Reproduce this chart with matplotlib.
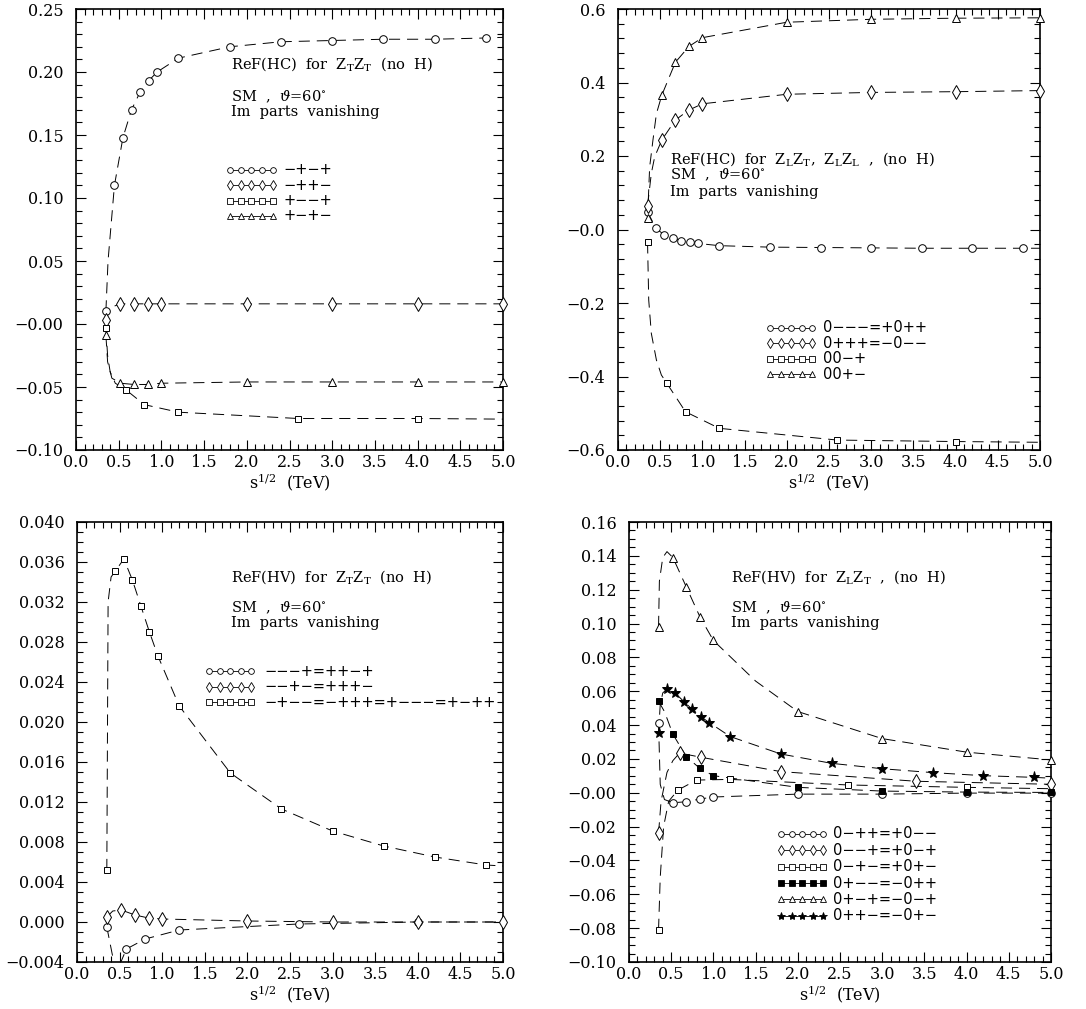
import matplotlib
matplotlib.use('Agg')
import matplotlib.pyplot as plt
from matplotlib.ticker import MultipleLocator, FixedLocator, FixedFormatter, FormatStrFormatter

plt.rcParams['font.family'] = 'DejaVu Serif'
plt.rcParams['mathtext.fontset'] = 'dejavuserif'
plt.rcParams['lines.scale_dashes'] = False

# energy grids (TeV) at which the markers sit
x_a = [0.35, 0.45, 0.55, 0.65, 0.75, 0.85, 0.95, 1.2, 1.8, 2.4, 3.0, 3.6, 4.2, 4.8]
x_b = [0.35, 0.52, 0.68, 0.84, 1.0, 2.0, 3.0, 4.0, 5.0]
x_c = [0.35, 0.58, 0.8, 1.2, 2.6, 4.0]
x_d = [0.35, 0.6, 0.85, 1.8, 3.4, 5.0]

# --- ReF(HC) for ZTZT
hc_tt_c = [0.010, 0.110, 0.148, 0.170, 0.184, 0.193, 0.200, 0.211, 0.220, 0.224, 0.225, 0.226, 0.226, 0.227]
hc_tt_d = [0.003, 0.016, 0.016, 0.016, 0.016, 0.016, 0.016, 0.016, 0.016]
hc_tt_s = [-0.003, -0.052, -0.064, -0.070, -0.075, -0.075]
hc_tt_t = [-0.009, -0.047, -0.048, -0.048, -0.047, -0.046, -0.046, -0.046, -0.046]
# extra points on the dashed curves between markers
hc_tt_c_ext = ([0.375, 5.0], [0.05, 0.2275])
hc_tt_d_ext = ([0.40], [0.013])
hc_tt_s_ext = ([0.37, 0.40, 0.46, 5.0], [-0.025, -0.038, -0.047, -0.0755])
hc_tt_t_ext = ([0.37, 0.42], [-0.030, -0.043])

# --- ReF(HC) for ZLZT, ZLZL
hc_lt_c = [0.048, 0.003, -0.015, -0.024, -0.030, -0.035, -0.038, -0.044, -0.048, -0.049, -0.050, -0.051, -0.051, -0.051]
hc_lt_d = [0.064, 0.244, 0.298, 0.325, 0.342, 0.368, 0.373, 0.375, 0.378]
hc_lt_s = [-0.035, -0.419, -0.496, -0.541, -0.573, -0.577]
hc_lt_t = [0.030, 0.366, 0.455, 0.498, 0.522, 0.564, 0.572, 0.575, 0.576]
hc_lt_c_ext = ([5.0], [-0.051])
hc_lt_d_ext = ([0.395, 0.435], [0.153, 0.198])
hc_lt_s_ext = ([0.364, 0.395, 0.455, 0.514, 5.0], [-0.192, -0.283, -0.355, -0.396, -0.579])
hc_lt_t_ext = ([0.375, 0.415, 0.455], [0.17, 0.245, 0.315])

# --- ReF(HV) for ZTZT
hv_tt_c = [-0.0005, -0.0027, -0.0017, -0.0008, -0.0002, 0.0000]
hv_tt_d = [0.0005, 0.0012, 0.0007, 0.0004, 0.0003, 0.0001, 0.0000, 0.0000, 0.0000]
hv_tt_s = [0.0052, 0.0351, 0.0363, 0.0342, 0.0316, 0.0290, 0.0266, 0.0216, 0.0149, 0.0113, 0.0091, 0.0076, 0.0065, 0.0057]
hv_tt_c_ext = ([0.42, 0.47, 0.53, 5.0], [-0.0035, -0.0050, -0.0037, 0.0])
hv_tt_d_ext = ([0.42], [0.0011])
hv_tt_s_ext = ([0.365, 0.40, 5.0], [0.032, 0.0345, 0.0056])

# --- ReF(HV) for ZLZT
hv_lt_c = [0.041, -0.0059, -0.0053, -0.0037, -0.0025, -0.0008, -0.0008, -0.0002, -0.0002]
hv_lt_d = [-0.024, 0.0235, 0.021, 0.0125, 0.0068, 0.005]
hv_lt_s = [-0.081, 0.0016, 0.0075, 0.0079, 0.0046, 0.0032]
hv_lt_f = [0.0541, 0.0346, 0.0213, 0.0144, 0.0101, 0.0032, 0.0010, 0.0004, 0.0002]
hv_lt_t = [0.098, 0.139, 0.1215, 0.104, 0.090, 0.048, 0.032, 0.024, 0.0194]
hv_lt_a = [0.0355, 0.0612, 0.0588, 0.0539, 0.0493, 0.0450, 0.0415, 0.0332, 0.0229, 0.0174, 0.0142, 0.0119, 0.0101, 0.0091]
hv_lt_c_ext = ([0.37, 0.42], [0.005, -0.004])
hv_lt_d_ext = ([0.38, 0.45, 0.52], [-0.005, 0.012, 0.019])
hv_lt_s_ext = ([0.37, 0.41, 0.47, 5.0], [-0.050, -0.020, -0.005, 0.0024])
hv_lt_f_ext = ([0.42], [0.048])
hv_lt_t_ext = ([0.36, 0.40, 0.45, 1.5], [0.125, 0.139, 0.1425, 0.066])
hv_lt_a_ext = ([0.37, 0.40, 5.0], [0.052, 0.059, 0.0086])

# legend labels
lab_hc_tt = ['\u2212+\u2212+', '\u2212++\u2212', '+\u2212\u2212+', '+\u2212+\u2212']
lab_hc_lt = ['0\u2212\u2212\u2212=+0++', '0+++=\u22120\u2212\u2212', '00\u2212+', '00+\u2212']
lab_hv_tt = ['\u2212\u2212\u2212+=++\u2212+', '\u2212\u2212+\u2212=+++\u2212',
             '\u2212+\u2212\u2212=\u2212+++=+\u2212\u2212\u2212=+\u2212++']
lab_hv_lt = ['0\u2212++=+0\u2212\u2212', '0\u2212\u2212+=+0\u2212+', '0\u2212+\u2212=+0+\u2212',
             '0+\u2212\u2212=\u22120++', '0+\u2212+=\u22120\u2212+', '0++\u2212=\u22120+\u2212']

# y tick labels
yt_1 = [-0.10, -0.05, 0.0, 0.05, 0.10, 0.15, 0.20, 0.25]
yl_1 = ['\u22120.10', '\u22120.05', '\u22120.00', '0.05', '0.10', '0.15', '0.20', '0.25']
yt_2 = [-0.6, -0.4, -0.2, 0.0, 0.2, 0.4, 0.6]
yl_2 = ['\u22120.6', '\u22120.4', '\u22120.2', '\u22120.0', '0.2', '0.4', '0.6']
yt_3 = [-0.004 + 0.004 * i for i in range(12)]
yl_3 = ['\u22120.004', '0.000', '0.004', '0.008', '0.012', '0.016', '0.020', '0.024',
        '0.028', '0.032', '0.036', '0.040']
yt_4 = [-0.10 + 0.02 * i for i in range(14)]
yl_4 = ['\u22120.10', '\u22120.08', '\u22120.06', '\u22120.04', '\u22120.02', '\u22120.00', '0.02',
        '0.04', '0.06', '0.08', '0.10', '0.12', '0.14', '0.16']

W, H = 1086, 1009
fig = plt.figure(figsize=(W / 100, H / 100), dpi=100)


def new_axes(l, r, t, b):
    return fig.add_axes([l / W, (H - b) / H, (r - l) / W, (b - t) / H])


MK = {'o': 5.5, 'd': 7, 's': 5, '^': 5.5, '*': 8}


def series(ax, x, y, ext, m, filled):
    pts = sorted(zip(list(x) + ext[0], list(y) + ext[1]))
    ax.plot([p[0] for p in pts], [p[1] for p in pts], color='k', lw=0.7, ls=(0, (8, 5)))
    ax.plot(x, y, ls='none', marker=m, ms=MK[m], mew=0.7, mec='k',
            mfc='k' if filled else 'white', clip_on=False, zorder=3)


def key(ax, x0, y0, dy, x_txt, rows, ax_w):
    step = 10.6 / ax_w
    for i, (m, filled, lab) in enumerate(rows):
        y = y0 - i * dy
        xs = [x0 + k * step for k in range(5)]
        ax.plot(xs, [y] * 5, '-', color='k', lw=0.6, marker=m, ms=MK[m] * 0.75, mew=0.6,
                mec='k', mfc='k' if filled else 'white', transform=ax.transAxes, clip_on=False)
        ax.text(x_txt, y, lab, transform=ax.transAxes, va='center', ha='left',
                fontsize=10.5, family='DejaVu Sans')


def style(ax, yt, yl, ymin, ymax, yminor):
    ax.set_xlim(0, 5)
    ax.set_ylim(ymin, ymax)
    ax.xaxis.set_major_locator(MultipleLocator(0.5))
    ax.xaxis.set_minor_locator(MultipleLocator(0.1))
    ax.xaxis.set_major_formatter(FormatStrFormatter('%.1f'))
    ax.yaxis.set_major_locator(FixedLocator(yt))
    ax.yaxis.set_major_formatter(FixedFormatter(yl))
    ax.yaxis.set_minor_locator(MultipleLocator(yminor))
    ax.tick_params(which='both', direction='in', top=True, right=True, width=0.8, labelsize=11.5)
    ax.tick_params(which='major', length=7)
    ax.tick_params(which='minor', length=4)
    ax.tick_params(axis='y', pad=9)
    ax.tick_params(axis='x', pad=3)
    for s in ax.spines.values():
        s.set_linewidth(1.2)
    ax.set_xlabel(r'$\mathrm{s}^{1/2}$  (TeV)', fontsize=11.5, labelpad=0)


def notes(ax, x, ys, lines):
    for y, t in zip(ys, lines):
        ax.text(x, y, t, transform=ax.transAxes, va='center', ha='left', fontsize=10.5)


sm_line = r'SM  ,  $\vartheta$=60$^{\circ}$'
im_line = 'Im  parts  vanishing'

# top left
ax1 = new_axes(76, 503, 9, 450)
series(ax1, x_a, hc_tt_c, hc_tt_c_ext, 'o', False)
series(ax1, x_b, hc_tt_d, hc_tt_d_ext, 'd', False)
series(ax1, x_c, hc_tt_s, hc_tt_s_ext, 's', False)
series(ax1, x_b, hc_tt_t, hc_tt_t_ext, '^', False)
style(ax1, yt_1, yl_1, -0.10, 0.25, 0.01)
notes(ax1, 0.363, [0.875, 0.800, 0.766],
      [r'ReF(HC)  for  Z$_\mathrm{T}$Z$_\mathrm{T}$  (no  H)', sm_line, im_line])
key(ax1, 0.361, 0.635, 0.0347, 0.485,
    list(zip(['o', 'd', 's', '^'], [False] * 4, lab_hc_tt)), 427)

# top right
ax2 = new_axes(618, 1040, 9, 450)
series(ax2, x_a, hc_lt_c, hc_lt_c_ext, 'o', False)
series(ax2, x_b, hc_lt_d, hc_lt_d_ext, 'd', False)
series(ax2, x_c, hc_lt_s, hc_lt_s_ext, 's', False)
series(ax2, x_b, hc_lt_t, hc_lt_t_ext, '^', False)
style(ax2, yt_2, yl_2, -0.6, 0.6, 0.04)
notes(ax2, 0.123, [0.660, 0.624, 0.585],
      [r'ReF(HC)  for  Z$_\mathrm{L}$Z$_\mathrm{T}$,  Z$_\mathrm{L}$Z$_\mathrm{L}$  ,  (no  H)',
       sm_line, im_line])
key(ax2, 0.360, 0.277, 0.0350, 0.486,
    list(zip(['o', 'd', 's', '^'], [False] * 4, lab_hc_lt)), 422)

# bottom left
ax3 = new_axes(77, 503, 522, 962)
series(ax3, x_c, hv_tt_c, hv_tt_c_ext, 'o', False)
series(ax3, x_b, hv_tt_d, hv_tt_d_ext, 'd', False)
series(ax3, x_a, hv_tt_s, hv_tt_s_ext, 's', False)
style(ax3, yt_3, yl_3, -0.004, 0.040, 0.001)
notes(ax3, 0.362, [0.875, 0.805, 0.770],
      [r'ReF(HV)  for  Z$_\mathrm{T}$Z$_\mathrm{T}$  (no  H)', sm_line, im_line])
key(ax3, 0.31, 0.661, 0.0355, 0.44,
    list(zip(['o', 'd', 's'], [False] * 3, lab_hv_tt)), 426)

# bottom right
ax4 = new_axes(629, 1051, 522, 962)
series(ax4, x_b, hv_lt_c, hv_lt_c_ext, 'o', False)
series(ax4, x_d, hv_lt_d, hv_lt_d_ext, 'd', False)
series(ax4, x_c, hv_lt_s, hv_lt_s_ext, 's', False)
series(ax4, x_b, hv_lt_f, hv_lt_f_ext, 's', True)
series(ax4, x_b, hv_lt_t, hv_lt_t_ext, '^', False)
series(ax4, x_a, hv_lt_a, hv_lt_a_ext, '*', True)
style(ax4, yt_4, yl_4, -0.10, 0.16, 0.005)
notes(ax4, 0.242, [0.875, 0.805, 0.770],
      [r'ReF(HV)  for  Z$_\mathrm{L}$Z$_\mathrm{T}$  ,  (no  H)', sm_line, im_line])
key(ax4, 0.36, 0.291, 0.0372, 0.483,
    list(zip(['o', 'd', 's', 's', '^', '*'], [False, False, False, True, False, True], lab_hv_lt)), 422)

fig.savefig('out.png', dpi=100)
